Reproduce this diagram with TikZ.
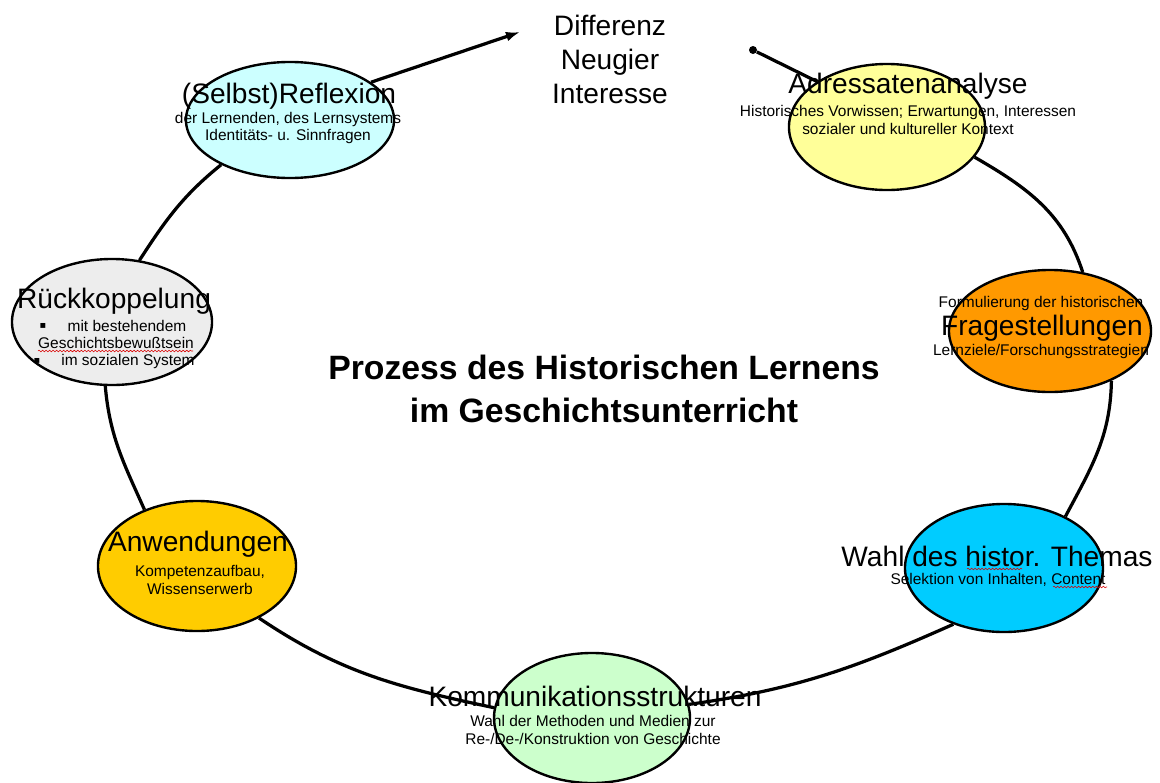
\documentclass[tikz,border=0pt]{standalone}
\usepackage{fontspec}
\setmainfont{Liberation Sans}
\newfontfamily\symfont{DejaVu Sans}
\usetikzlibrary{arrows.meta,shapes.geometric,decorations.pathmorphing}
\definecolor{creflx}{HTML}{CCFFFF}
\definecolor{cadr}{HTML}{FFFF99}
\definecolor{cfrage}{HTML}{FF9900}
\definecolor{crueck}{HTML}{EDEDED}
\definecolor{cwahl}{HTML}{00CCFF}
\definecolor{canw}{HTML}{FFCC00}
\definecolor{ckomm}{HTML}{CCFFCC}
\begin{document}
\begin{tikzpicture}[x=0.025cm,y=-0.025cm,
  blob/.style={ellipse,draw=black,line width=1.7pt,inner sep=0pt},
  loopline/.style={draw=black,line width=2.3pt},
  big/.style={font=\fontsize{20}{22}\selectfont,inner sep=0pt},
  small/.style={font=\fontsize{11}{12.5}\selectfont,align=center,inner sep=0pt},
  bul/.style={font=\symfont\fontsize{7}{8}\selectfont,inner sep=0pt},
  squig/.style={draw=red!85!black,line width=0.4pt,decorate,decoration={snake,amplitude=0.6pt,segment length=2.5pt}}
]
\useasboundingbox[fill=white] (0,0) rectangle (1160,783);

% ellipses
\node[blob,fill=creflx,minimum width=5.2cm,minimum height=2.9cm] (refl) at (290,120) {};
\node[blob,fill=cadr,minimum width=4.9cm,minimum height=3.15cm] (adr) at (887,127) {};
\node[blob,fill=cfrage,minimum width=5.05cm,minimum height=3.05cm] (frage) at (1050,331) {};
\node[blob,fill=crueck,minimum width=5.0cm,minimum height=3.15cm] (rueck) at (112,322) {};
\node[blob,fill=cwahl,minimum width=4.95cm,minimum height=3.2cm] (wahl) at (1004,568) {};
\node[blob,fill=canw,minimum width=4.95cm,minimum height=3.25cm] (anw) at (197,566) {};
\node[blob,fill=ckomm,minimum width=4.9cm,minimum height=3.25cm] (komm) at (592,718) {};

\node[circle,fill=black,inner sep=0pt,minimum size=0.2cm] (dot) at (753,50) {};
\coordinate (tip) at (520,32);

% loop connectors
\draw[loopline] (dot) -- (adr.147);
\draw[loopline] (adr.-19) to[out=-30,in=108] (frage.61);
\draw[loopline] (frage.-39) to[out=-91,in=62] (wahl.40);
\draw[loopline] (wahl.228) to[out=204,in=8] (komm.8);
\draw[loopline] (komm.174) to[out=168,in=-34] (anw.-40);
\draw[loopline] (anw.133) to[out=114,in=-85] (rueck.264);
\draw[loopline] (rueck.66) to[out=57,in=219] (refl.213);
\draw[loopline,-{Latex[length=10pt,width=7pt]}] (refl.25) -- (tip);

% texts
\node[big] (trefl) at (289,96) {(Selbst)Reflexion};
\node[small] (srefl) at (288,128) {der Lernenden, des Lernsystems\\Identitäts- u. Sinnfragen};

\node[big] (tadr) at (908,86) {Adressatenanalyse};
\node[small] (sadr) at (908,120) {Historisches Vorwissen; Erwartungen, Interessen\\sozialer und kultureller Kontext};

\node[small] (sfrage1) at (1041,303) {Formulierung der historischen};
\node[big] (tfrage) at (1042,328) {Fragestellungen};
\node[small] (sfrage2) at (1041,351) {Lernziele/Forschungsstrategien};

\node[big] (trueck) at (114,301) {Rückkoppelung};
\node[bul] (b1) at (43,326) {▪};
\node[small] (r1) at (127,326) {mit bestehendem};
\node[small] (r2) at (116,343) {Geschichtsbewußtsein};
\node[bul] (b2) at (37,361) {▪};
\node[small] (r3) at (128,361) {im sozialen System};

\node[big] (twahl) at (997,556) {Wahl des histor. Themas};
\node[small] (swahl) at (998,580) {Selektion von Inhalten, Content};

\node[big] (tanw) at (198,544) {Anwendungen};
\node[small] (sanw) at (200,580) {Kompetenzaufbau,\\Wissenserwerb};

\node[big] (tkomm) at (595,696) {Kommunikationsstrukturen};
\node[small] (skomm) at (593,730) {Wahl der Methoden und Medien zur\\Re-/De-/Konstruktion von Geschichte};

\node[font=\fontsize{20}{24.2}\selectfont,align=center,inner sep=0pt] (diff) at (610,59) {Differenz\\Neugier\\Interesse};

\node[font=\bfseries\fontsize{24}{30}\selectfont,align=center,inner sep=0pt] (title) at (604,389) {Prozess des Historischen Lernens\\im Geschichtsunterricht};

% spell-check squiggles
\draw[squig] (38,351) -- (193,351);
\draw[squig] (967,569) -- (1022,569);
\draw[squig] (1053,587) -- (1107,587);
\end{tikzpicture}
\end{document}
